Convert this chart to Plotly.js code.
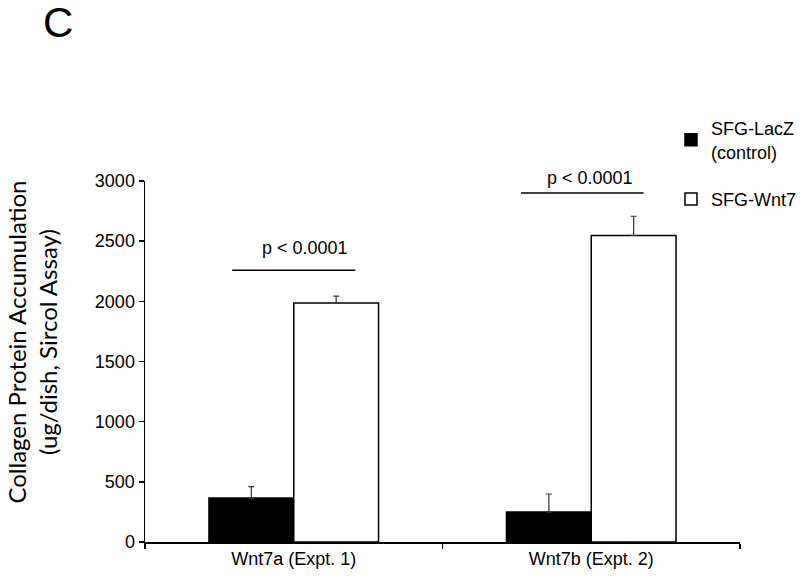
<!DOCTYPE html>
<html>
<head>
<meta charset="utf-8">
<script src="https://cdn.plot.ly/plotly-3.0.1.min.js"></script>
<style>
html,body{margin:0;padding:0;background:#fff;}
#chart{width:800px;height:584px;}
</style>
</head>
<body>
<div id="chart"></div>
<script>
const categories = ["Wnt7a (Expt. 1)", "Wnt7b (Expt. 2)"];
const seriesNames = ["SFG-LacZ<br>(control)", "SFG-Wnt7"];
const lacZValues = [365, 249];
const lacZErrors = [95, 150];
const wnt7Values = [1986, 2547];
const wnt7Errors = [58, 160];
const yTickVals = [0, 500, 1000, 1500, 2000, 2500, 3000];
const pLabels = ["p < 0.0001", "p < 0.0001"];
const pLineLevels = [2259, 2900];

const font = "Liberation Sans, Arial, sans-serif";

const traces = [
  {
    type: "bar", name: seriesNames[0], legendgroup: "g1", x: categories, y: lacZValues,
    marker: {color: "#000000", line: {color: "#000000", width: 1.5}},
    error_y: {type: "data", array: lacZErrors, arrayminus: lacZErrors.map(()=>0), symmetric: false,
              color: "#333333", thickness: 1.2, width: 3}
  },
  {
    type: "bar", name: seriesNames[1], legendgroup: "g2", x: categories, y: wnt7Values,
    marker: {color: "#ffffff", line: {color: "#000000", width: 1.5}},
    error_y: {type: "data", array: wnt7Errors, arrayminus: wnt7Errors.map(()=>0), symmetric: false,
              color: "#333333", thickness: 1.2, width: 3}
  }
];

const lineSpan = [[-0.207, 0.207], [-0.236, 0.176]];
const labelShift = [0.038, -0.003];
const labelLift = [22, 15];
const shapes = [];
const annotations = [];
categories.forEach((c, i) => {
  shapes.push({type: "line", xref: "x", yref: "y", x0: i + lineSpan[i][0], x1: i + lineSpan[i][1],
               y0: pLineLevels[i], y1: pLineLevels[i], line: {color: "#000", width: 1.5}});
  annotations.push({xref: "x", yref: "y", x: i + labelShift[i], y: pLineLevels[i], yanchor: "middle",
                    yshift: labelLift[i],
                    text: pLabels[i], showarrow: false, font: {family: font, size: 18, color: "#000"}});
});
annotations.push({xref: "paper", yref: "paper", x: -0.19, y: 0.555, xanchor: "center", yanchor: "middle",
  textangle: -90,
  text: "Collagen Protein Accumulation<br>(ug/dish, Sircol Assay)", showarrow: false,
  font: {family: "Lato, Carlito, sans-serif", size: 24, color: "#000"}});
annotations.push({xref: "paper", yref: "paper", x: -0.146, y: 1.439, xanchor: "center", yanchor: "middle",
  text: "C", showarrow: false, font: {family: font, size: 42, color: "#000"}});

const layout = {
  width: 800, height: 584,
  margin: {l: 145, r: 60, t: 181, b: 42, autoexpand: false},
  paper_bgcolor: "#fff", plot_bgcolor: "#fff",
  barmode: "group", bargap: 0.43, bargroupgap: 0,
  font: {family: font, size: 18, color: "#000"},
  showlegend: true,
  legend: {x: 0.884, y: 1.197, xanchor: "left", yanchor: "top", font: {family: font, size: 18, color: "#000"},
           itemwidth: 30, tracegroupgap: 21, bgcolor: "rgba(0,0,0,0)"},
  xaxis: {type: "category", range: [-0.5, 1.5], showline: true, linecolor: "#000", linewidth: 1.5,
          ticks: "outside", tickson: "boundaries", ticklen: 5, tickcolor: "#000", tickwidth: 1.5,
          showgrid: false, zeroline: false, tickfont: {family: font, size: 18}},
  yaxis: {range: [0, 3000], tickvals: yTickVals, showline: true, linecolor: "#000", linewidth: 1.5,
          ticks: "outside", ticklen: 5, tickcolor: "#000", tickwidth: 1.5, showgrid: false, zeroline: false,
          tickfont: {family: font, size: 18}},
  shapes: shapes,
  annotations: annotations
};

Plotly.newPlot("chart", traces, layout, {displayModeBar: false, staticPlot: true});
</script>
</body>
</html>
